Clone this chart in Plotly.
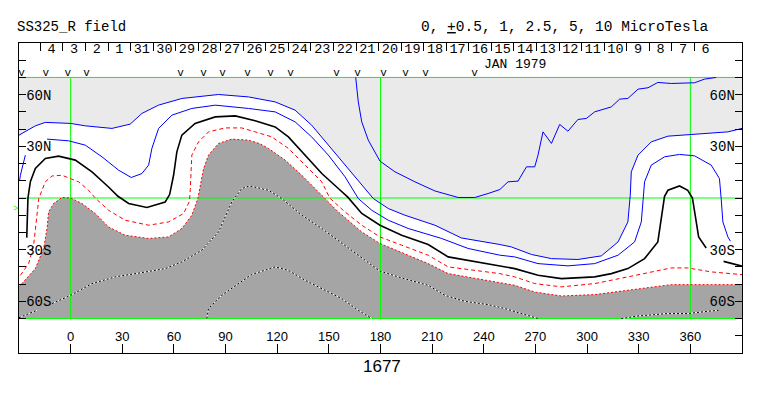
import plotly.graph_objects as go

# ---------------- axes / labels ----------------
LON_RANGE = [-30, 390]
LAT_RANGE = [-90, 90]
PANEL_LAT = 70                      # contour panel spans -70..70
LON_TICKS = [0, 30, 60, 90, 120, 150, 180, 210, 240, 270, 300, 330, 360]
LAT_TICKS = [-80, -70, -60, -50, -40, -30, -20, -10, 0, 10, 20, 30, 40, 50, 60, 70, 80]
LAT_TEXT = ["", "", "60S", "", "", "30S", "", "", "", "", "", "30N", "", "", "60N", "", ""]
DAY_LABELS = ["4", "3", "2", "1", "31", "30", "29", "28", "27", "26", "25", "24", "23", "22",
              "21", "20", "19", "18", "17", "16", "15", "14", "13", "12", "11", "10", "9",
              "8", "7", "6"]
DAY_EDGE0 = -17.6    # longitude of first day boundary
DAY_STEP = 13.1      # longitude per day
V_MARK_LON = [-28.5, -14.5, -1.7, 9.3, 63.9, 77.2, 88.3, 102.8, 116.1, 127.8, 154.5,
              166.7, 181.8, 194.5, 206.2, 234.6]
V_MARK_LAT = 72.3
GRID_LON = [0, 180, 360]
GRID_LAT = [-70, 0, 70]

# ---------------- contours (lon, lat) ----------------
B1_LON = [-30, -20.5, -14.7, 0, 8.5, 24, 34.6, 41.4, 51, 64.6, 85.9, 103.3, 118.8, 130.4,
          140, 149.7, 159.4, 171, 175.8, 184.5, 194.2, 211.6, 227, 249.3, 256, 267.7,
          279.3, 294.7, 308.3, 318, 323.7, 325.1, 325.7, 329.6, 337.3, 347, 362.4, 381.8, 390]
B1_LAT = [36.5, 41.9, 43.9, 43.3, 41.9, 40.4, 42.9, 49.1, 53.9, 57.8, 60.1, 58.7, 55.8, 51,
          42.3, 30.7, 19.1, 5.5, -0.3, -6.1, -10, -15.8, -23.2, -27, -28.4, -32.8,
          -35.2, -35.7, -33.6, -25.5, -13.9, 1.6, 15.2, 24.9, 32.6, 35.9, 37.1, 38.4, 40.4]

B2_LON = [-29.6, -29.2, -26.3, None, -13.7, -1.2, 8.5, 18.2, 27.8, 35.2, 41.4, 45.3, 47.2,
          51.1, 58.8, 70.4, 84, 103.3, 118.8, 130.4, 140, 149.7, 159.4, 167.1, 174.9,
          184.5, 196.1, 215.5, 230.9, 249.3, 258, 271.5, 288.9, 304.4, 318, 327.6, 331.5,
          332.8, 333.4, 337.3, 345, 353.7, 362.4, 372.1, 376.9, 377.9, 378.9, 381.8, 383.3]
B2_LAT = [10.5, 13.2, 24.9, None, 34.2, 33.2, 30.7, 23.9, 16.2, 11.9, 14.2, 19.1, 28.8,
          40.4, 48.1, 52, 53.9, 52, 50, 44.2, 35.5, 24.9, 12.3, -0.3, -7.1,
          -12.9, -17.7, -23.5, -29.3, -33.2, -34.2, -38.1, -39.4, -38.1, -33.2, -25.5, -13.9,
          1.6, 9.4, 19.1, 23.9, 25.3, 24.5, 19.1, 11.3, -0.3, -13.9, -22.6, -25.1]

B3_LON = [165.6, 167.1, 169.1, 172.9, 179.7, 188.4, 200, 211.6, 225.1, 234.8, 242.5, 249.3,
          254.1, 259.9, 264.8, 269.6, 271.5, 274.4, 279.3, 284.1, 288.9, 294.7, 299.6,
          304.4, 314.1, 318.9, 323.7, 329.6, 335.4, 341.1, 348.9, 362.4, 368.2, 375]
B3_LAT = [70, 55.8, 44.2, 33.6, 21.4, 15.2, 9.4, 4.1, 0.3, 0.3, 2.6, 4.9,
          9.4, 9.8, 18.1, 18.1, 24.9, 38.4, 31.7, 42.7, 38.8, 45.6, 46.2,
          50, 52.9, 57.4, 57.8, 63.2, 64, 67.1, 66.5, 66.9, 69, 70]

K_LON = [-25.5, -25.3, -24.8, -23.4, -20.5, -14.7, -7, 2.7, 12.4, 22, 27.5, 33.7, 44.3, 54.9,
         57.5, 59.8, 61.7, 64.6, 72.3, 84, 95.6, 107.2, 118.8, 126.5, 136.2, 145.9, 155.5,
         161, 169.1, 179.7, 192.3, 207.7, 219.3, 234.8, 249.3, 258, 271.5, 285.1, 304.4,
         314.1, 323.7, 333.4, 341.1, 343.1, 345, 347, 353.7, 358.5, 361.2, 362.8, 364.8,
         369.2, None, 379.3, 390]
K_LAT = [-23, -10, 0, 9.4, 17.1, 23, 24.3, 22, 15.2, 6.4, 1, -3.2, -5.5, -2.3,
         2, 13.2, 26.8, 36.5, 43.3, 47.1, 47.7, 44.8, 41.3, 35.5, 24.9, 14.2, 5.5,
         0.5, -9, -15.8, -21.6, -27, -34.2, -37.1, -39.4, -41, -44.9, -46.8, -45.8,
         -43.9, -41, -35.2, -25.5, -11.9, 1, 4.5, 7, 4.5, 0, -10, -22.6,
         -29, None, -36.8, -39.6]

R1_LON = [-29.2, -24.4, -21.5, -20.5, -18.5, -14.7, -10.8, -5, 4.6, 10.4, 14.3, 22, 31.7,
          45.3, 56.9, 65.6, 69, 69.5, 69.8, 70.4, 74.3, 80.1, 89.8, 99.4, 107.2, 116.8,
          126.5, 136.2, 145.9, 150.5, 159.4, 169.1, 179.7, 192.3, 207.7, 219.3, 234.8,
          249.3, 258, 269.6, 285.1, 304.4, 323.7, 339.2, 348.9, 358.5, 372.1, 390]
R1_LAT = [-44.9, -38.1, -27.4, -17.7, -0.3, 9.4, 12.8, 13.2, 9.4, 4.5, 0, -7.1, -12.9,
          -15.8, -13.9, -9, -2, 5, 13, 24.9, 32.6, 38.4, 40.7, 40.7, 38.4, 35.5,
          28.8, 19.1, 9.4, 0, -8.1, -15.8, -22.6, -27.4, -33.2, -40, -42,
          -43.9, -45.8, -49.7, -51.6, -49.7, -45.8, -42.5, -40.6, -40.6, -42.9, -44.5]

R2_LON = [-30, -29.2, -20.5, -15.7, -13.7, -12.8, -9.9, -5, 0, 6.6, 14.3, 22, 31.7, 45.3,
          56.9, 64.6, 70.4, 73.9, 77.2, 80.1, 85.9, 93.6, 103.3, 110, 114.9, 124.6, 134.3,
          142, 147, 155.5, 169.1, 179.7, 192.3, 207.7, 219.3, 234.8, 249.3, 258, 269.6,
          285.1, 304.4, 323.7, 348.9, 372.1, 390]
R2_LAT = [-51.5, -50.7, -41, -29.3, -17.7, -8.1, -3.2, 0.3, 0, -3.2, -9, -16.8, -21.6, -23.5,
          -22.6, -17.7, -10, -0.3, 17.1, 24.9, 31.7, 34.2, 33.6, 31.5, 28.8, 22, 13.2,
          5.5, 0, -8.1, -19.7, -26.4, -31.7, -38.1, -43.9, -46.8, -49.1, -50.7, -54.6,
          -56.9, -56.1, -53.6, -50.3, -50.3, -50.3]

D1_LON = [-30, -19.5, None, -10.8, 0, 12.4, 25.9, 41.4, 54.9, 64.6, 76.2, 85.9, 93.6, 96.5,
          99.4, 104, 110, 114.9, 122.6, 134.3, 145.9, 157.5, 171, 179.7, 192.3, 207.7,
          217.4, 229, 242.5, 252.2, 261.9, 271.5, None,
          319.9, 329.6, 347, 358.5, 370.2, 376.4]
D1_LAT = [-69.5, -65.2, None, -61.3, -56.5, -49.7, -45.8, -43.3, -41, -37.1, -30.3, -19.7, -2.3, 1.6,
          5.5, 7, 5.8, 4.5, -0.3, -10, -17.7, -26.4, -36.1, -42.5, -46.4, -50.7,
          -56.5, -60, -61.9, -64.2, -67.1, -70, None,
          -70, -68.5, -67.1, -67.1, -65.8, -65.2]

D2_LON = [79.1, 80.1, 87.8, 99.4, 105, 118.8, 126.5, 136.2, 147.8, 157.5, 167.1, 174.9]
D2_LAT = [-70, -64.2, -56.5, -48.7, -44.5, -40, -42, -47.8, -53.6, -58.4, -65.2, -70]

# ---------------- colours ----------------
LIGHT = "#eaeaea"
DARK = "#a5a5a5"
GREEN = "#00ff00"
BLUE = "#0000ff"
RED = "#ff0000"
MONO = "Liberation Mono"
SANS = "Liberation Sans"

fig = go.Figure()

def poly(xs, ys, color):
    fig.add_trace(go.Scatter(x=xs, y=ys, mode="lines", fill="toself", fillcolor=color,
                             line=dict(width=0, color=color), hoverinfo="skip"))

L0, L1 = LON_RANGE
poly([L0, L1, L1, L0, L0], [-PANEL_LAT, -PANEL_LAT, PANEL_LAT, PANEL_LAT, -PANEL_LAT], LIGHT)
poly(B1_LON + [L1, L0], B1_LAT + [-PANEL_LAT, -PANEL_LAT], "white")
poly(R2_LON + [L1, L0], R2_LAT + [-PANEL_LAT, -PANEL_LAT], DARK)

# green reference lines
gx, gy = [], []
for la in GRID_LAT:
    gx += [L0, L1, None]
    gy += [la, la, None]
for lo in GRID_LON:
    gx += [lo, lo, None]
    gy += [-PANEL_LAT, PANEL_LAT, None]
fig.add_trace(go.Scatter(x=gx, y=gy, mode="lines", line=dict(color=GREEN, width=1),
                         hoverinfo="skip"))

def line(xs, ys, color, width=1, dash="solid"):
    fig.add_trace(go.Scatter(x=xs, y=ys, mode="lines", connectgaps=False,
                             line=dict(color=color, width=width, dash=dash), hoverinfo="skip"))

for lx, ly in [(D1_LON, D1_LAT), (D2_LON, D2_LAT)]:
    line(lx, ly, "white", 1)
    line(lx, ly, "black", 1, "2px,2px")

line(R2_LON, R2_LAT, RED, 1, "2px,2px")
line(R1_LON, R1_LAT, RED, 1, "4px,3px")
line(K_LON, K_LAT, "black", 1.6)
line(B1_LON, B1_LAT, BLUE, 1)
line(B2_LON, B2_LAT, BLUE, 1)
line(B3_LON, B3_LAT, BLUE, 1)

# "v" marks along the top of the panel
fig.add_trace(go.Scatter(x=V_MARK_LON, y=[V_MARK_LAT] * len(V_MARK_LON), mode="text",
                         text=["v"] * len(V_MARK_LON), textposition="middle center",
                         textfont=dict(family=MONO, size=11, color="black"),
                         cliponaxis=False, hoverinfo="skip"))

# invisible trace to attach secondary axes
fig.add_trace(go.Scatter(x=[L0], y=[0], xaxis="x2", yaxis="y2", mode="markers",
                         marker=dict(opacity=0), hoverinfo="skip"))

day_edges = [DAY_EDGE0 + DAY_STEP * i for i in range(len(DAY_LABELS) + 1)]
day_mid = [DAY_EDGE0 + DAY_STEP * (i + 0.5) for i in range(len(DAY_LABELS))]

axis_common = dict(showgrid=False, zeroline=False, showline=True, linecolor="black",
                   linewidth=1, ticks="inside", tickcolor="black", tickwidth=1)

# page body has an 8px default margin: size the figure so the frame lands where the reference has it
fig.update_layout(
    width=755, height=388, autosize=False,
    margin=dict(l=11, r=21, t=35, b=43),
    paper_bgcolor="white", plot_bgcolor="white",
    showlegend=False, hovermode=False,
    xaxis=dict(range=LON_RANGE, tickvals=LON_TICKS, ticklen=9,
               ticklabelposition="inside", tickfont=dict(family=SANS, size=13, color="black"),
               **axis_common),
    xaxis2=dict(range=LON_RANGE, overlaying="x", side="top", tickvals=day_mid,
                ticktext=DAY_LABELS, showgrid=False, zeroline=False, showline=True,
                linecolor="black", ticks="", ticklabelposition="inside",
                tickfont=dict(family=MONO, size=13.5, color="black"),
                minor=dict(tickmode="array", tickvals=day_edges, ticks="inside", ticklen=8,
                           tickcolor="black", tickwidth=1)),
    yaxis=dict(range=LAT_RANGE, tickvals=LAT_TICKS, ticktext=LAT_TEXT, ticklen=7,
               ticklabelposition="inside", tickfont=dict(family=MONO, size=14, color="black"),
               **axis_common),
    yaxis2=dict(range=LAT_RANGE, overlaying="y", side="right", tickvals=LAT_TICKS,
                ticktext=LAT_TEXT, ticklen=7, ticklabelposition="inside",
                tickfont=dict(family=MONO, size=14, color="black"), **axis_common),
)

ann = [
    dict(text="SS325_R field", xref="paper", yref="paper", x=0, xshift=-4, y=1.052,
         xanchor="left", yanchor="middle", font=dict(family=MONO, size=14, color="black")),
    dict(text="0, <u>+</u>0.5, 1, 2.5, 5, 10 MicroTesla", xref="paper", yref="paper",
         x=0.956, y=1.052, xanchor="right", yanchor="middle",
         font=dict(family=MONO, size=14.5, color="black")),
    dict(text="JAN 1979", xref="x", yref="y", x=258, y=77.6, xanchor="center",
         yanchor="middle", font=dict(family=MONO, size=13, color="black")),
    dict(text="1677", xref="x", yref="paper", x=181, y=-0.045, xanchor="center",
         yanchor="middle", font=dict(family=SANS, size=17, color="black")),
    dict(text=">", xref="x", yref="y", x=-30, xshift=-4, y=-6.5, xanchor="center",
         yanchor="middle", font=dict(family=MONO, size=9, color=GREEN)),
]
fig.update_layout(annotations=[dict(showarrow=False, **a) for a in ann])

fig.write_html("out.html")
